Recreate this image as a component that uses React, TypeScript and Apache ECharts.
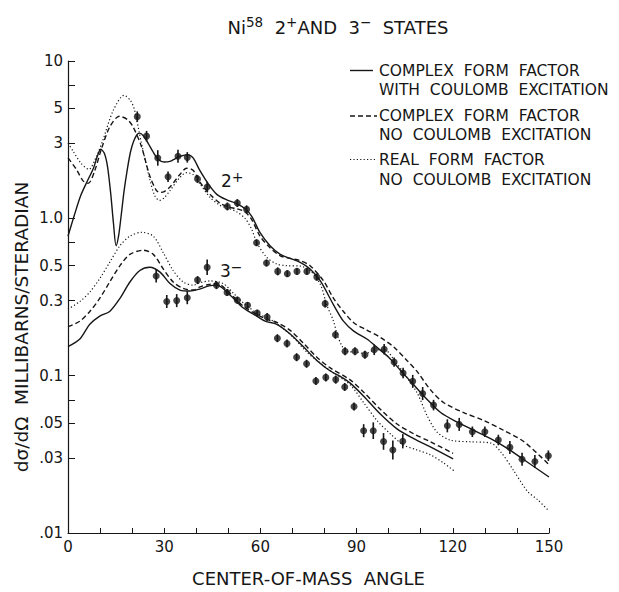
import React, { useEffect, useRef } from "react";
import * as echarts from "echarts";

// ---------- data (angles in degrees, cross sections in mb/sr) ----------
const ANGLE_2P = [21.6, 24.5, 28.0, 31.2, 34.3, 37.2, 40.4, 43.4, 49.7, 52.8, 55.7, 58.8, 61.9, 65.4, 68.4, 71.4, 74.5, 77.6, 80.2, 83.4, 86.4, 89.5, 92.6, 95.5, 98.6, 101.7, 104.5, 107.5, 110.6, 114.0, 118.3, 122.0, 126.1, 130.0, 134.2, 137.8, 141.6, 145.6, 149.8];
const XS_2P = [4.43, 3.33, 2.42, 1.84, 2.48, 2.44, 1.78, 1.58, 1.19, 1.25, 1.14, 0.70, 0.52, 0.46, 0.445, 0.46, 0.46, 0.423, 0.287, 0.182, 0.143, 0.143, 0.136, 0.146, 0.147, 0.122, 0.104, 0.092, 0.077, 0.065, 0.048, 0.049, 0.044, 0.044, 0.039, 0.035, 0.0294, 0.0285, 0.031];
const ERR_2P = [0.08, 0.08, 0.12, 0.08, 0.1, 0.08, 0.06, 0.08, 0.06, 0.06, 0.06, 0.05, 0.05, 0.06, 0.05, 0.05, 0.05, 0.05, 0.06, 0.06, 0.06, 0.06, 0.06, 0.08, 0.08, 0.07, 0.08, 0.1, 0.1, 0.08, 0.1, 0.1, 0.08, 0.08, 0.08, 0.1, 0.1, 0.1, 0.08];

const ANGLE_3M = [27.5, 30.8, 33.9, 37.2, 40.4, 43.4, 46.3, 49.6, 52.8, 56.0, 59.0, 62.1, 65.3, 68.3, 71.3, 74.4, 77.3, 80.4, 83.5, 86.3, 89.2, 92.2, 95.2, 98.4, 101.3, 104.4];
const XS_3M = [0.43, 0.296, 0.30, 0.313, 0.405, 0.488, 0.376, 0.338, 0.302, 0.28, 0.25, 0.236, 0.173, 0.160, 0.131, 0.119, 0.0925, 0.0975, 0.0944, 0.0848, 0.0636, 0.0447, 0.0447, 0.0382, 0.0337, 0.0383];
const ERR_3M = [0.1, 0.1, 0.1, 0.1, 0.06, 0.12, 0.06, 0.05, 0.05, 0.05, 0.05, 0.06, 0.06, 0.06, 0.06, 0.06, 0.06, 0.06, 0.06, 0.06, 0.06, 0.1, 0.13, 0.13, 0.15, 0.11];

const SOLID_2P_X = [0, 2, 4, 6, 8, 9.2, 10.2, 11.3, 12.3, 13.3, 14.2, 15.0, 15.8, 16.6, 17.5, 18.5, 19.5, 20.5, 21.5, 22.3, 23.5, 25, 26.5, 28, 30, 31.8, 33.5, 35, 37.3, 39, 41.2, 43.8, 46.4, 49.5, 52.6, 55.2, 57.3, 59.9, 63, 66.2, 69.3, 72.4, 75.5, 78.7, 82.8, 85.9, 89.1, 93.2, 96.9, 100, 103.7, 107.8, 112, 116.2, 121.4, 126.6, 131.8, 137, 142.2, 150];
const SOLID_2P_Y = [0.77, 1.05, 1.4, 1.72, 2.1, 2.5, 2.75, 2.6, 2.15, 1.45, 0.92, 0.67, 0.78, 1.05, 1.5, 2.05, 2.65, 3.1, 3.4, 3.48, 3.35, 3.0, 2.65, 2.38, 2.28, 2.3, 2.4, 2.48, 2.54, 2.42, 2.0, 1.65, 1.42, 1.31, 1.24, 1.15, 1.03, 0.81, 0.67, 0.59, 0.556, 0.525, 0.477, 0.40, 0.282, 0.222, 0.192, 0.171, 0.148, 0.131, 0.108, 0.0875, 0.0706, 0.0583, 0.0506, 0.0449, 0.0398, 0.0345, 0.0292, 0.0227];

const DASH_2P_X = [0, 2.6, 4.7, 6.3, 8.3, 10.4, 13, 16, 18.5, 20.3, 22.9, 25.5, 27.6, 28.7, 30, 31.8, 34.9, 37, 39, 41.2, 44.3, 47.4, 50, 52.6, 55.2, 57.3, 59.9, 63, 66.2, 69.3, 72.4, 75.5, 79.7, 82.8, 85.9, 89.1, 93.2, 97.4, 101.6, 105.7, 108.9, 113, 117.2, 123.4, 129.7, 135.9, 142.2, 150];
const DASH_2P_Y = [2.42, 2.05, 1.73, 1.67, 2.0, 2.75, 3.8, 4.45, 4.25, 3.81, 2.86, 1.86, 1.5, 1.46, 1.48, 1.58, 1.9, 2.08, 2.02, 1.69, 1.42, 1.25, 1.18, 1.15, 1.10, 0.98, 0.77, 0.65, 0.578, 0.556, 0.538, 0.50, 0.40, 0.31, 0.256, 0.217, 0.195, 0.175, 0.152, 0.125, 0.106, 0.0815, 0.0673, 0.0583, 0.0518, 0.0449, 0.038, 0.0272];

const DOT_2P_X = [0, 1.6, 4, 6.5, 8.9, 10.9, 14.1, 17.5, 19.5, 20.8, 22.9, 25.5, 27, 28.5, 30, 31.8, 34.9, 37, 39, 41.2, 44.3, 47.4, 50.5, 52.6, 55.2, 57.3, 58.9, 62, 65.1, 68.2, 72.4, 75.5, 78.7, 80.7, 82.8, 83.9, 85.4, 87, 90.1, 92.7, 95.8, 99, 102.1, 104.7, 108.9, 112, 115.1, 119.3, 125.5, 131.8, 134.9, 139.1, 143.2, 146.4, 150];
const DOT_2P_Y = [3.0, 2.67, 2.25, 2.05, 2.48, 3.15, 4.84, 6.05, 5.6, 4.84, 3.0, 1.77, 1.4, 1.30, 1.35, 1.50, 1.82, 1.95, 1.9, 1.65, 1.36, 1.21, 1.15, 1.10, 1.0, 0.85, 0.70, 0.564, 0.513, 0.50, 0.497, 0.466, 0.38, 0.282, 0.222, 0.184, 0.155, 0.143, 0.141, 0.138, 0.146, 0.145, 0.122, 0.104, 0.0776, 0.0556, 0.0438, 0.0389, 0.038, 0.0373, 0.0329, 0.0247, 0.0185, 0.0163, 0.0138];

const SOLID_3M_X = [0, 3.7, 6.8, 9.9, 13, 16.2, 19.3, 22.4, 25.5, 28.7, 31.8, 34.9, 38, 41, 44, 46.4, 50.5, 54.7, 58.9, 61.5, 65.1, 69.3, 73.5, 77.6, 81.8, 84.9, 88, 92.2, 97.4, 102.6, 107.8, 113, 120.1];
const SOLID_3M_Y = [0.153, 0.171, 0.212, 0.239, 0.256, 0.31, 0.394, 0.466, 0.489, 0.455, 0.385, 0.35, 0.345, 0.355, 0.372, 0.376, 0.326, 0.269, 0.239, 0.222, 0.212, 0.184, 0.152, 0.125, 0.107, 0.099, 0.0897, 0.0741, 0.057, 0.0459, 0.0398, 0.0353, 0.0296];

const DASH_3M_X = [0, 3.7, 6.8, 9.9, 13, 16.2, 19.3, 23.4, 26.6, 29.7, 32.8, 35.9, 39.1, 41.2, 44, 46.4, 50.5, 54.7, 58.9, 62, 65.1, 69.3, 73.5, 77.6, 81.8, 88, 92.2, 97.4, 102.6, 107.8, 113, 120.1];
const DASH_3M_Y = [0.205, 0.222, 0.256, 0.31, 0.394, 0.50, 0.59, 0.627, 0.59, 0.477, 0.394, 0.359, 0.35, 0.367, 0.38, 0.385, 0.334, 0.276, 0.245, 0.228, 0.218, 0.194, 0.16, 0.131, 0.112, 0.094, 0.0785, 0.0612, 0.0493, 0.0427, 0.038, 0.0321];

const DOT_3M_X = [0, 3.7, 6.8, 9.9, 13, 16.2, 19.3, 22.9, 26.6, 29.7, 32.8, 35.9, 39.1, 41.2, 44.3, 48.4, 51.6, 54.7, 58.9, 63, 66.2, 70.3, 74.5, 78.7, 82.8, 88, 92.2, 96.4, 100.5, 104.7, 108.9, 113, 117.2, 120.5];
const DOT_3M_Y = [0.265, 0.296, 0.34, 0.414, 0.525, 0.67, 0.77, 0.815, 0.77, 0.605, 0.466, 0.394, 0.376, 0.39, 0.40, 0.385, 0.334, 0.29, 0.25, 0.228, 0.206, 0.175, 0.141, 0.12, 0.104, 0.0875, 0.0673, 0.0518, 0.0427, 0.0362, 0.0337, 0.0314, 0.0278, 0.0247];

const X_LABELS = [0, 30, 60, 90, 120, 150];
const Y_LABEL_VALUES = [0.01, 0.03, 0.05, 0.1, 0.3, 0.5, 1, 3, 5, 10];
const Y_LABEL_TEXT = [".01", ".03", ".05", "0.1", "0.3", "0.5", "1.0", "3", "5", "10"];
const Y_TICK_VALUES = [0.01, 0.03, 0.05, 0.07, 0.1, 0.3, 0.5, 0.7, 1, 3, 5, 7, 10];

const LEGEND_LINES = [
  ["COMPLEX  FORM  FACTOR", "WITH  COULOMB  EXCITATION"],
  ["COMPLEX  FORM  FACTOR", "NO  COULOMB  EXCITATION"],
  ["REAL  FORM  FACTOR", "NO  COULOMB  EXCITATION"],
];

// ---------- helpers ----------
const FONT = "'DejaVu Sans', 'Noto Sans', sans-serif";
const INK = "#161616";
const L = (v: number) => Math.log10(v);
const pairs = (xs: number[], ys: number[]) => xs.map((x, i) => [x, L(ys[i])]);
const errs = (xs: number[], ys: number[], es: number[]) =>
  xs.map((x, i) => [x, L(ys[i]), L(ys[i] * (1 + es[i])), L(ys[i] / (1 + es[i]))]);

const SOLID = { color: INK, width: 1.4, type: "solid" as const };
const DASHED = { color: INK, width: 1.4, type: [5, 3] as any };
const DOTTED = { color: INK, width: 1.2, type: [1.2, 2.3] as any };

function curve(name: string, xs: number[], ys: number[], ls: any) {
  return {
    name,
    type: "line",
    data: pairs(xs, ys),
    showSymbol: false,
    smooth: 0.3,
    lineStyle: ls,
    itemStyle: { color: INK },
    silent: true,
    z: 2,
  };
}

function points(xs: number[], ys: number[]) {
  return {
    type: "scatter",
    data: pairs(xs, ys),
    symbol: "circle",
    symbolSize: 7,
    itemStyle: { color: INK },
    z: 4,
  };
}

function bars(xs: number[], ys: number[], es: number[]) {
  return {
    type: "custom",
    data: errs(xs, ys, es),
    encode: { x: 0, y: [1, 2, 3] },
    z: 3,
    renderItem: (_p: any, api: any) => {
      const x = api.value(0);
      const hi = api.coord([x, api.value(2)]);
      const lo = api.coord([x, api.value(3)]);
      return {
        type: "line",
        shape: { x1: hi[0], y1: hi[1], x2: lo[0], y2: lo[1] },
        style: { stroke: INK, lineWidth: 1.6 },
      };
    },
  };
}

export default function App() {
  const ref = useRef<HTMLDivElement>(null);

  useEffect(() => {
    document.body.style.margin = "0";
    const chart = echarts.init(ref.current!, null, { renderer: "svg" });

    const legendGraphics: any[] = [];
    const legendY = [[70.5, 89.5], [116, 135], [159.5, 180]];
    const legendStyles = [
      { dash: null, x2: 373, w: 1.4 },
      { dash: [5, 3], x2: 377, w: 1.4 },
      { dash: [1.2, 2.2], x2: 377, w: 1.2 },
    ];
    LEGEND_LINES.forEach((lines, i) => {
      const st = legendStyles[i];
      legendGraphics.push({
        type: "line",
        shape: { x1: 350, y1: legendY[i][0], x2: st.x2, y2: legendY[i][0] },
        style: { stroke: INK, lineWidth: st.w, lineDash: st.dash || undefined },
      });
      lines.forEach((t, j) => {
        legendGraphics.push({
          type: "text",
          x: 379,
          y: legendY[i][j],
          style: {
            text: t,
            fill: INK,
            fontSize: 15.5,
            fontFamily: FONT,
            align: "left",
            verticalAlign: "middle",
          },
        });
      });
    });

    const option: any = {
      animation: false,
      backgroundColor: "#ffffff",
      grid: { left: 68, right: 70, top: 61, bottom: 49, containLabel: false },
      xAxis: {
        type: "value",
        min: 0,
        max: 150,
        interval: 10,
        name: "CENTER-OF-MASS  ANGLE",
        nameLocation: "middle",
        nameGap: 36,
        nameTextStyle: { color: INK, fontSize: 18, fontFamily: FONT },
        axisLine: { show: true, onZero: false, lineStyle: { color: INK, width: 1.2 } },
        axisTick: { show: true, inside: true, length: 5, lineStyle: { color: INK, width: 1 } },
        axisLabel: {
          color: INK,
          fontSize: 15,
          fontFamily: FONT,
          margin: 6,
          formatter: (v: number) => (X_LABELS.indexOf(Math.round(v)) >= 0 && Math.abs(v - Math.round(v)) < 1e-6 ? String(Math.round(v)) : ""),
        },
        splitLine: { show: false },
      },
      yAxis: {
        type: "value",
        min: -2,
        max: 1,
        axisLine: { show: true, onZero: false, lineStyle: { color: INK, width: 1.2 } },
        axisTick: {
          show: true,
          inside: true,
          length: 7,
          customValues: Y_TICK_VALUES.map(L),
          lineStyle: { color: INK, width: 1 },
        },
        axisLabel: {
          color: INK,
          fontSize: 15,
          fontFamily: FONT,
          margin: 5,
          padding: [0, 0, 5, 0],
          customValues: Y_LABEL_VALUES.map(L),
          formatter: (v: number) => {
            const i = Y_LABEL_VALUES.findIndex((t) => Math.abs(L(t) - v) < 1e-6);
            return i >= 0 ? Y_LABEL_TEXT[i] : "";
          },
        },
        splitLine: { show: false },
      },
      graphic: [
        {
          type: "text",
          x: 338,
          y: 27,
          style: {
            text: "{a|Ni}{s|58}{a|  2}{s|+}{a|AND  3}{s|−}{a|  STATES}",
            align: "center",
            verticalAlign: "middle",
            fill: INK,
            rich: {
              a: { fontSize: 18, fontFamily: FONT, fill: INK },
              s: { fontSize: 13.5, fontFamily: FONT, fill: INK, padding: [0, 0, 11, 0] },
            },
          },
        },
        {
          type: "text",
          x: 21,
          y: 327,
          rotation: Math.PI / 2,
          style: {
            text: "dσ/dΩ  MILLIBARNS/STERADIAN",
            align: "center",
            verticalAlign: "middle",
            fill: INK,
            fontSize: 18.5,
            fontFamily: FONT,
          },
        },
        {
          type: "text",
          x: 221,
          y: 181,
          style: {
            text: "{a|2}{s|+}",
            align: "left",
            verticalAlign: "middle",
            rich: {
              a: { fontSize: 17, fontFamily: FONT, fill: INK },
              s: { fontSize: 14, fontFamily: FONT, fill: INK, padding: [0, 0, 8, 0] },
            },
          },
        },
        {
          type: "text",
          x: 220,
          y: 271,
          style: {
            text: "{a|3}{s|−}",
            align: "left",
            verticalAlign: "middle",
            rich: {
              a: { fontSize: 17, fontFamily: FONT, fill: INK },
              s: { fontSize: 14, fontFamily: FONT, fill: INK, padding: [0, 0, 8, 0] },
            },
          },
        },
        ...legendGraphics,
      ],
      series: [
        curve("2+ complex, Coulomb", SOLID_2P_X, SOLID_2P_Y, SOLID),
        curve("2+ complex, no Coulomb", DASH_2P_X, DASH_2P_Y, DASHED),
        curve("2+ real, no Coulomb", DOT_2P_X, DOT_2P_Y, DOTTED),
        curve("3- complex, Coulomb", SOLID_3M_X, SOLID_3M_Y, SOLID),
        curve("3- complex, no Coulomb", DASH_3M_X, DASH_3M_Y, DASHED),
        curve("3- real, no Coulomb", DOT_3M_X, DOT_3M_Y, DOTTED),
        bars(ANGLE_2P, XS_2P, ERR_2P),
        bars(ANGLE_3M, XS_3M, ERR_3M),
        points(ANGLE_2P, XS_2P),
        points(ANGLE_3M, XS_3M),
      ],
    };

    chart.setOption(option);
    return () => chart.dispose();
  }, []);

  return <div ref={ref} style={{ width: 619, height: 592 }} />;
}
